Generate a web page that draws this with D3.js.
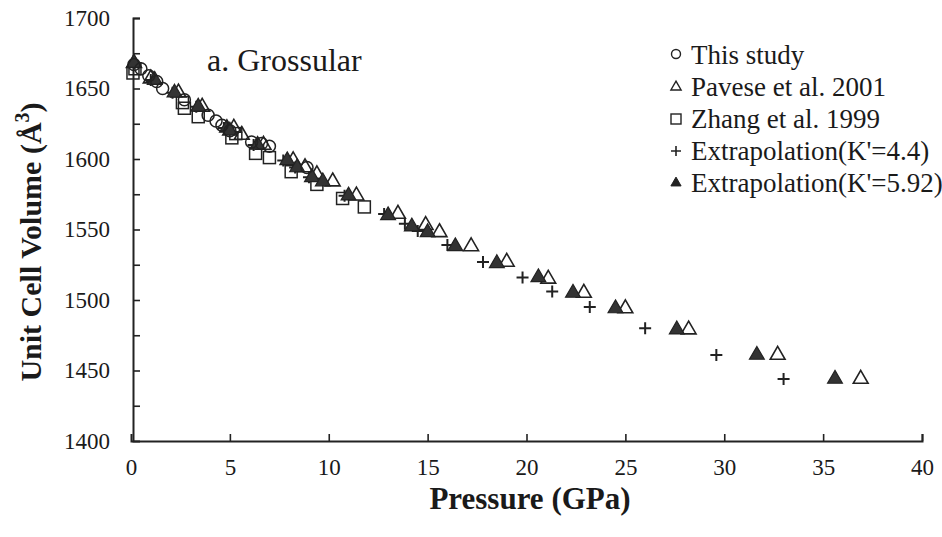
<!DOCTYPE html>
<html><head><meta charset="utf-8">
<script src="https://cdn.jsdelivr.net/npm/d3@7"></script>
<style>body{margin:0;background:#fff}svg{display:block}
svg text{font-family:'Liberation Serif','Times New Roman',Times,'DejaVu Serif','Noto Serif',serif !important;fill:#1a1a1a}</style>
</head><body>
<svg id="c" width="942" height="537"></svg>
<script>
// ---- data (pressure GPa, volume Å^3) ----
const thisStudy = [[0.15,1667],[0.5,1664],[0.9,1659],[1.3,1655],[1.6,1650],[2.7,1642],[3.9,1631],[4.3,1627],[4.6,1624],[5.0,1620],[6.1,1612],[6.6,1611],[7.0,1609],[8.9,1594]];
const pavese = [[0.15,1668],[1.0,1657],[2.4,1647],[3.6,1637],[5.2,1622],[5.6,1617],[6.7,1610],[8.2,1599],[8.8,1594],[9.4,1589],[10.2,1584],[11.4,1574],[13.5,1561],[14.9,1553],[15.6,1548],[17.2,1538],[19.0,1527],[21.1,1515],[22.9,1505],[25.0,1494],[28.2,1479],[32.7,1461],[36.9,1444]];
const zhang = [[0.1,1661],[0.2,1664],[2.6,1640],[2.7,1636],[3.4,1630],[5.1,1615],[5.3,1618],[6.3,1604],[7.0,1601],[8.1,1591],[9.4,1582],[10.7,1572],[11.8,1566]];
const extrap44 = [[0.15,1668],[1.0,1656],[2.1,1647],[3.3,1637],[4.7,1622],[6.2,1610],[7.7,1599],[8.3,1594],[9.0,1587],[10.8,1574],[12.8,1561],[13.85,1554],[14.5,1549],[16.0,1539],[17.8,1527],[19.8,1516],[21.3,1506],[23.2,1495],[26.0,1480],[29.6,1461],[33.0,1444]];
const extrap592 = [[0.15,1668],[1.2,1656],[2.2,1647],[3.4,1637],[4.85,1622],[5.0,1620],[6.4,1610],[7.9,1599],[8.4,1594],[9.15,1587],[9.7,1584],[11.0,1574],[13.0,1560],[14.2,1552],[15.0,1548],[16.4,1538],[18.5,1526],[20.6,1516],[22.35,1505],[24.5,1494],[27.6,1479],[31.65,1461],[35.6,1444]];
const xTicks = [0,5,10,15,20,25,30,35,40];
const yTicks = [1400,1450,1500,1550,1600,1650,1700];
const legendLabels = ["This study","Pavese et al. 2001","Zhang et al. 1999","Extrapolation(K'=4.4)","Extrapolation(K'=5.92)"];

const FONT = "'Liberation Serif','Times New Roman',Times,'DejaVu Serif',serif";
const svg = d3.select("#c");
const x = d3.scaleLinear().domain([0,40]).range([131,922]);
const y = d3.scaleLinear().domain([1400,1700]).range([441,18]);
const ink = "#222";

// axes
const xAxis = svg.append("g").attr("transform","translate(0,441)")
  .call(d3.axisBottom(x).tickValues(xTicks).tickSize(-7).tickPadding(18).tickFormat(d3.format("d")));
const yAxis = svg.append("g").attr("transform","translate(133,0)")
  .call(d3.axisLeft(y).tickValues(d3.range(1400,1701,25)).tickSize(-7).tickPadding(23)
    .tickFormat(d => yTicks.includes(d) ? d : ""));
[xAxis,yAxis].forEach(g=>{
  g.attr("font-family",FONT);
  g.select(".domain").attr("stroke",ink).attr("stroke-width",2);
  g.selectAll(".tick line").attr("stroke",ink).attr("stroke-width",1.6);
  g.selectAll(".tick text").attr("font-size",23).style("font-family",FONT).attr("fill","#1a1a1a");
});
xAxis.selectAll(".tick").filter(d=>d===0).select("line").remove();
yAxis.selectAll(".tick").filter(d=>d===1400).select("line").remove();

// titles
svg.append("text").attr("x",530).attr("y",509).attr("text-anchor","middle").style("font-family",FONT)
  .attr("font-size",31).attr("font-weight","bold").text("Pressure (GPa)");
const yt = svg.append("text").attr("transform","translate(41,242) rotate(-90)").attr("text-anchor","middle")
  .style("font-family",FONT).attr("font-size",30).attr("font-weight","bold");
yt.append("tspan").text("Unit Cell Volume (Å");
yt.append("tspan").attr("dy",-12).attr("font-size",20).text("3");
yt.append("tspan").attr("dy",12).text(")");

svg.append("text").attr("x",207).attr("y",71).style("font-family",FONT).attr("font-size",32).text("a. Grossular");

// markers
const tri = d3.symbol().type(d3.symbolTriangle).size(95);
const g = svg.append("g");
g.selectAll(".zh").data(zhang).join("rect")
  .attr("x",d=>x(d[0])-6).attr("y",d=>y(d[1])-6).attr("width",12).attr("height",12)
  .attr("fill","none").attr("stroke",ink).attr("stroke-width",1.5);
g.selectAll(".pv").data(pavese).join("path")
  .attr("d",tri).attr("transform",d=>`translate(${x(d[0])},${y(d[1])})`)
  .attr("fill","none").attr("stroke",ink).attr("stroke-width",1.6);
g.selectAll(".e4l").data(extrap44).join("path")
  .attr("d",d=>{const cx=x(d[0]),cy=y(d[1]);return `M${cx-6},${cy}H${cx+6}M${cx},${cy-6}V${cy+6}`;})
  .attr("stroke",ink).attr("stroke-width",2);
g.selectAll(".e5").data(extrap592).join("path")
  .attr("d",tri).attr("transform",d=>`translate(${x(d[0])},${y(d[1])})`)
  .attr("fill","#333").attr("stroke",ink).attr("stroke-width",1.2);
g.selectAll(".ts").data(thisStudy).join("circle")
  .attr("cx",d=>x(d[0])).attr("cy",d=>y(d[1])).attr("r",6)
  .attr("fill","none").attr("stroke",ink).attr("stroke-width",1.5);

// legend
const lg = svg.append("g");
const rowY = i => 56 + i*32;
const lx = 676;
legendLabels.forEach((t,i)=>{
  const cy = rowY(i);
  if(i===0) lg.append("circle").attr("cx",lx).attr("cy",cy-2).attr("r",4.5).attr("fill","none").attr("stroke",ink).attr("stroke-width",1.4);
  if(i===1) lg.append("path").attr("d",d3.symbol().type(d3.symbolTriangle).size(45)()).attr("transform",`translate(${lx},${cy-1})`).attr("fill","none").attr("stroke",ink).attr("stroke-width",1.4);
  if(i===2) lg.append("rect").attr("x",lx-5).attr("y",cy-6).attr("width",10).attr("height",10).attr("fill","none").attr("stroke",ink).attr("stroke-width",1.4);
  if(i===3) lg.append("path").attr("d",`M${lx-5},${cy-1}H${lx+5}M${lx},${cy-6}V${cy+4}`).attr("stroke",ink).attr("stroke-width",1.6);
  if(i===4) lg.append("path").attr("d",d3.symbol().type(d3.symbolTriangle).size(45)()).attr("transform",`translate(${lx},${cy-1})`).attr("fill","#222").attr("stroke",ink);
  lg.append("text").attr("x",691).attr("y",cy+8).style("font-family",FONT).attr("font-size",27).text(t);
});
</script>
</body></html>
